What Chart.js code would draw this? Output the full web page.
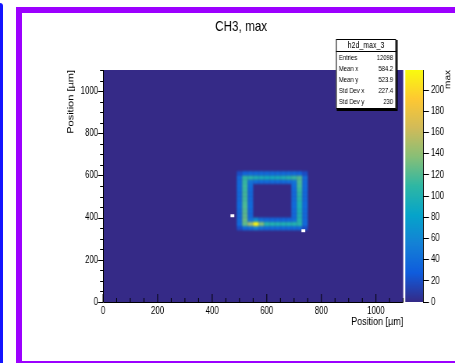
<!DOCTYPE html>
<html>
<head>
<meta charset="utf-8">
<script src="https://cdn.jsdelivr.net/npm/chart.js@4.4.1/dist/chart.umd.min.js"></script>
<style>
  html, body { margin: 0; padding: 0; background: #fff; overflow: hidden; }
  #wrap { position: relative; width: 455px; height: 363px; overflow: hidden; }
  /* the canvas is laid out wide and squeezed horizontally to get the narrow lettering */
  #plotBox { position: absolute; left: 0; top: 0; width: 583px; height: 363px; transform: scaleX(0.7804); transform-origin: 0 0; }
  .edge { position: absolute; pointer-events: none; }
  #blueEdge { left: -3px; top: 3px; width: 6px; height: 370px; background: #1414ff; border-radius: 3px; }
  #purpleFrame { left: 16px; top: 7px; width: 460px; height: 348px; border: 6px solid #9c00ff; }
</style>
</head>
<body>
<div id="wrap">
  <div id="plotBox"><canvas id="plot" width="583" height="363"></canvas></div>
  <div class="edge" id="blueEdge"></div>
  <div class="edge" id="purpleFrame"></div>
</div>
<script>
const FONT = '"Liberation Sans", Arial, sans-serif';

const xRange = [0, 1100];
const yRange = [0, 1100];
const xTickValues = [0, 200, 400, 600, 800, 1000];
const yTickValues = [0, 200, 400, 600, 800, 1000];
const zTickValues = [0, 20, 40, 60, 80, 100, 120, 140, 160, 180, 200];
const zMax = 219;

// 20 um bins around the ring, first column at x = 470, first row at y = 340
const binWidth = 20;
const ringX0 = 470;
const ringY0 = 340;
const ringRows = [ // bottom row first
  [0, 20,  38,  42,  55,  42,  38,  38,  38,  38,  38,  38,  38, 20, 0],
  [0, 38, 125, 145, 215, 135, 105, 102, 100, 100, 100, 102, 105, 38, 0],
  [0, 38, 128,  48,  65,  42,  38,  36,  36,  36,  36,  42, 102, 38, 0],
  [0, 38, 125,  38,   0,   0,   0,   0,   0,   0,   0,  38, 100, 38, 0],
  [0, 38, 122,  38,   0,   0,   0,   0,   0,   0,   0,  38,  98, 38, 0],
  [0, 38, 120,  38,   0,   0,   0,   0,   0,   0,   0,  38,  98, 38, 0],
  [0, 38, 118,  38,   0,   0,   0,   0,   0,   0,   0,  38, 100, 38, 0],
  [0, 38, 116,  38,   0,   0,   0,   0,   0,   0,   0,  38, 104, 38, 0],
  [0, 38, 116,  38,   0,   0,   0,   0,   0,   0,   0,  38, 108, 38, 0],
  [0, 38, 114,  38,   0,   0,   0,   0,   0,   0,   0,  38, 112, 38, 0],
  [0, 38, 114,  40,   0,   0,   0,   0,   0,   0,   0,  40, 116, 38, 0],
  [0, 38, 112,  46,  40,  38,  38,  38,  38,  38,  40,  46, 118, 38, 0],
  [0, 38, 110, 106, 100,  96,  92,  92,  94,  98, 104, 112, 120, 42, 0],
  [0, 20,  34,  38,  38,  38,  38,  38,  38,  38,  38,  38,  34, 20, 0]
];

// bins below the z minimum, left unpainted
const lowBinX = [474, 734];
const lowBinY = [409, 338];
const lowBinSize = 14;

const statsName = 'h2d_max_3';
const statsLabels = ['Entries', 'Mean x', 'Mean y', 'Std Dev x', 'Std Dev y'];
const statsValues = ['12098', '584.2', '523.9', '227.4', '230'];

// kBird palette
const birdStops = [0.0, 0.125, 0.25, 0.375, 0.5, 0.625, 0.75, 0.875, 1.0];
const birdR = [0.2082, 0.0592, 0.0780, 0.0232, 0.1802, 0.5301, 0.8186, 0.9956, 0.9764];
const birdG = [0.1664, 0.3599, 0.5041, 0.6419, 0.7178, 0.7492, 0.7328, 0.7862, 0.9832];
const birdB = [0.5293, 0.8684, 0.8385, 0.7914, 0.6425, 0.4662, 0.3499, 0.1968, 0.0539];

function birdColor(v) {
  const t = Math.max(0, Math.min(1, v / zMax));
  let i = 0;
  while (i < birdStops.length - 2 && t > birdStops[i + 1]) i++;
  const f = (t - birdStops[i]) / (birdStops[i + 1] - birdStops[i]);
  const c = a => Math.round(255 * (a[i] + (a[i + 1] - a[i]) * f));
  return `rgb(${c(birdR)},${c(birdG)},${c(birdB)})`;
}

const cells = [];
ringRows.forEach((row, r) => {
  row.forEach((v, c) => {
    if (v > 0) {
      cells.push({ x: ringX0 + c * binWidth + binWidth / 2, y: ringY0 + r * binWidth + binWidth / 2, v: v });
    }
  });
});

const lowCells = lowBinX.map((x, i) => ({ x: x, y: lowBinY[i] }));

const heatmap = {
  id: 'heatmap',
  beforeDatasetsDraw(chart) {
    const { ctx, chartArea: area, scales: { x, y } } = chart;
    const off = document.createElement('canvas');
    off.width = chart.width;
    off.height = chart.height;
    const o = off.getContext('2d');
    o.fillStyle = birdColor(0);
    o.fillRect(0, 0, off.width, off.height);
    const half = binWidth / 2;
    chart.data.datasets[0].data.forEach(p => {
      const x0 = x.getPixelForValue(p.x - half);
      const x1 = x.getPixelForValue(p.x + half);
      const y0 = y.getPixelForValue(p.y + half);
      const y1 = y.getPixelForValue(p.y - half);
      o.fillStyle = birdColor(p.v);
      o.fillRect(x0, y0, x1 - x0, y1 - y0);
    });

    ctx.save();
    ctx.beginPath();
    ctx.rect(area.left, area.top, area.right - area.left, area.bottom - area.top);
    ctx.clip();
    ctx.filter = 'blur(1.3px)';
    ctx.drawImage(off, 0, 0);
    ctx.filter = 'none';
    ctx.fillStyle = '#ffffff';
    const lh = lowBinSize / 2;
    chart.data.datasets[1].data.forEach(p => {
      const x0 = x.getPixelForValue(p.x - lh);
      const x1 = x.getPixelForValue(p.x + lh);
      const y0 = y.getPixelForValue(p.y + lh);
      const y1 = y.getPixelForValue(p.y - lh);
      ctx.fillRect(x0, y0, x1 - x0, y1 - y0);
    });
    ctx.restore();
  }
};

const frameAxes = {
  id: 'frameAxes',
  afterDatasetsDraw(chart) {
    const { ctx, chartArea: area, scales: { x, y } } = chart;
    ctx.save();
    ctx.strokeStyle = '#000';
    ctx.lineWidth = 1;
    ctx.beginPath();
    ctx.moveTo(area.left + 0.5, area.top);
    ctx.lineTo(area.left + 0.5, area.bottom + 0.5);
    ctx.lineTo(area.right, area.bottom + 0.5);
    for (let v = xRange[0]; v <= xRange[1]; v += 50) {
      const px = x.getPixelForValue(v);
      const len = v % 200 === 0 ? 8 : 4;
      ctx.moveTo(px, area.bottom);
      ctx.lineTo(px, area.bottom - len);
    }
    for (let v = yRange[0]; v <= yRange[1]; v += 50) {
      const py = Math.round(y.getPixelForValue(v)) + 0.5;
      const len = v % 200 === 0 ? 6.4 : 3.8;
      ctx.moveTo(area.left, py);
      ctx.lineTo(area.left - len, py);
    }
    ctx.stroke();
    ctx.restore();
  }
};

const colorBar = {
  id: 'colorBar',
  afterDraw(chart) {
    const { ctx, scales: { gap, z } } = chart;
    const top = z.getPixelForValue(zMax);
    const bottom = z.getPixelForValue(0);
    const grad = ctx.createLinearGradient(0, bottom, 0, top);
    birdStops.forEach((s, i) => {
      grad.addColorStop(s, `rgb(${Math.round(birdR[i] * 255)},${Math.round(birdG[i] * 255)},${Math.round(birdB[i] * 255)})`);
    });
    ctx.save();
    ctx.fillStyle = grad;
    ctx.fillRect(gap.left + 2.6, top, gap.right - gap.left - 2.6, bottom - top);
    ctx.fillStyle = '#000';
    ctx.font = `10px ${FONT}`;
    ctx.translate(574, top);
    ctx.rotate(-Math.PI / 2);
    ctx.textAlign = 'right';
    ctx.textBaseline = 'middle';
    ctx.fillText('max', 0, 0);
    ctx.restore();
  }
};

const statsBox = {
  id: 'statsBox',
  afterDraw(chart) {
    const { ctx } = chart;
    const left = 430.5, top = 39, w = 77, h = 70;
    ctx.save();
    ctx.fillStyle = '#000';
    ctx.fillRect(left + 1, top + 1, w + 1, h + 1);
    ctx.fillStyle = '#fff';
    ctx.fillRect(left, top, w, h);
    ctx.strokeStyle = '#000';
    ctx.lineWidth = 1;
    ctx.strokeRect(left + 0.5, top + 0.5, w - 1, h - 1);
    ctx.beginPath();
    ctx.moveTo(left, top + 12.5);
    ctx.lineTo(left + w, top + 12.5);
    ctx.stroke();
    ctx.fillStyle = '#000';
    ctx.textBaseline = 'middle';
    ctx.font = `9px ${FONT}`;
    ctx.textAlign = 'center';
    ctx.fillText(statsName, left + w / 2, top + 6.5);
    ctx.font = `7.5px ${FONT}`;
    statsLabels.forEach((lab, i) => {
      const ty = top + 19 + i * 11;
      ctx.textAlign = 'left';
      ctx.fillText(lab, left + 3.8, ty);
      ctx.textAlign = 'right';
      ctx.fillText(statsValues[i], left + w - 3.8, ty);
    });
    ctx.restore();
  }
};

function fixedTicks(values) {
  return scale => { scale.ticks = values.map(v => ({ value: v })); };
}
const plainLabel = v => String(v);

new Chart(document.getElementById('plot'), {
  type: 'scatter',
  data: {
    datasets: [
      { label: 'max', data: cells, pointRadius: 0, pointHoverRadius: 0 },
      { label: 'below minimum', data: lowCells, pointRadius: 0, pointHoverRadius: 0 }
    ]
  },
  options: {
    responsive: false,
    animation: false,
    events: [],
    devicePixelRatio: 1,
    layout: { padding: { left: 35, right: 0, top: 0, bottom: 0 } },
    plugins: {
      legend: { display: false },
      tooltip: { enabled: false },
      title: {
        display: true,
        text: 'CH3, max',
        color: '#000',
        font: { family: FONT, size: 15, weight: 'normal' },
        padding: { top: 17.5, bottom: 34.5 }
      }
    },
    scales: {
      x: {
        type: 'linear',
        min: xRange[0],
        max: xRange[1],
        afterBuildTicks: fixedTicks(xTickValues),
        afterFit: s => { s.height = 61; },
        grid: { display: false, drawTicks: false },
        border: { display: false },
        ticks: { color: '#000', padding: 3, maxRotation: 0, callback: plainLabel, font: { family: FONT, size: 10 } },
        title: {
          display: true, text: 'Position [µm]', align: 'end', color: '#000',
          font: { family: FONT, size: 11.5 }, padding: { top: 0, bottom: 34.1 }
        }
      },
      y: {
        type: 'linear',
        min: yRange[0],
        max: yRange[1],
        afterBuildTicks: fixedTicks(yTickValues),
        afterFit: s => { s.width = 97; },
        grid: { display: false, drawTicks: false },
        border: { display: false },
        ticks: { color: '#000', padding: 6.4, callback: plainLabel, font: { family: FONT, size: 10 } },
        title: {
          display: true, text: 'Position [µm]', align: 'end', color: '#000',
          font: { family: FONT, size: 11 }, padding: { top: 49.4, bottom: 0 }
        }
      },
      gap: {
        type: 'linear',
        position: 'right',
        weight: 1,
        min: 0,
        max: 1,
        afterFit: s => { s.width = 25.3; },
        grid: { display: false },
        border: { display: false },
        ticks: { display: false }
      },
      z: {
        type: 'linear',
        position: 'right',
        weight: 2,
        min: 0,
        max: zMax,
        afterBuildTicks: fixedTicks(zTickValues),
        afterFit: s => { s.width = 41; },
        grid: { display: true, drawOnChartArea: false, drawTicks: true, tickLength: 7.7, color: '#000' },
        border: { display: true, color: '#000' },
        ticks: { color: '#000', padding: 2.6, callback: plainLabel, font: { family: FONT, size: 10 } }
      }
    }
  },
  plugins: [heatmap, frameAxes, colorBar, statsBox]
});
</script>
</body>
</html>
